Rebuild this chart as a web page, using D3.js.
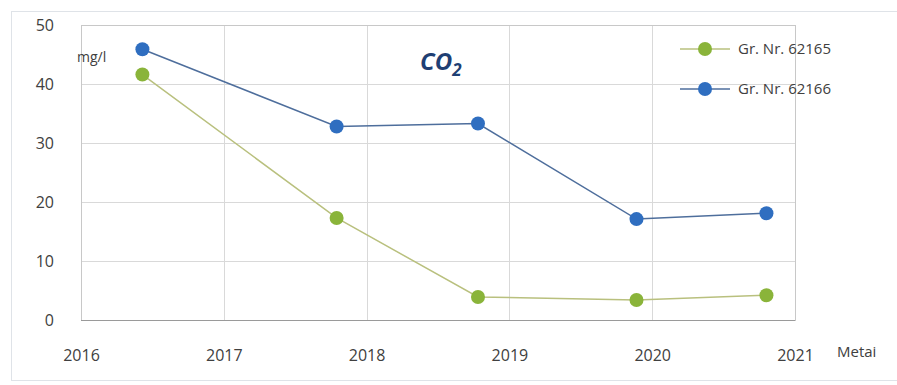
<!DOCTYPE html>
<html>
<head>
<meta charset="utf-8">
<script src="https://cdn.jsdelivr.net/npm/d3@7"></script>
<style>
  html, body { margin: 0; padding: 0; background: #fff; }
  svg { display: block; font-family: "Open Sans", "Liberation Sans", sans-serif; }
</style>
</head>
<body>
<svg id="chart" width="897" height="385"></svg>
<script>
// Sampling dates (decimal years) and CO2 concentrations, mg/l
const dates = [2016.43, 2017.79, 2018.78, 2019.89, 2020.80];
const well62165 = [41.6, 17.3, 3.9, 3.4, 4.2];
const well62166 = [45.9, 32.8, 33.3, 17.1, 18.1];
const seriesNames = ["Gr. Nr. 62165", "Gr. Nr. 62166"];
const yearTicks = [2016, 2017, 2018, 2019, 2020, 2021];
const valueTicks = [0, 10, 20, 30, 40, 50];

const svg = d3.select("#chart");
const plot = { left: 81, right: 795, top: 25, bottom: 320 };

const x = d3.scaleLinear().domain([2016, 2021]).range([plot.left, plot.right]);
const y = d3.scaleLinear().domain([0, 50]).range([plot.bottom, plot.top]);

// chart frame
svg.append("rect")
  .attr("x", 11.5).attr("y", 11.5).attr("width", 900).attr("height", 369)
  .attr("fill", "#fff").attr("stroke", "#dfe3e8");

// gridlines
svg.append("g").selectAll("line").data(valueTicks.filter(v => v > 0)).join("line")
  .attr("x1", plot.left).attr("x2", plot.right)
  .attr("y1", d => Math.round(y(d)) + 0.5).attr("y2", d => Math.round(y(d)) + 0.5)
  .attr("stroke", "#d9d9d9");
svg.append("g").selectAll("line").data(yearTicks).join("line")
  .attr("y1", plot.top).attr("y2", plot.bottom)
  .attr("x1", d => Math.round(x(d)) + 0.5).attr("x2", d => Math.round(x(d)) + 0.5)
  .attr("stroke", "#d9d9d9");

// plot border
svg.append("rect")
  .attr("x", plot.left + 0.5).attr("y", plot.top + 0.5)
  .attr("width", plot.right - plot.left).attr("height", plot.bottom - plot.top)
  .attr("fill", "none").attr("stroke", "#c8c8c8");
svg.append("line")
  .attr("x1", plot.left).attr("x2", plot.right)
  .attr("y1", plot.bottom + 0.5).attr("y2", plot.bottom + 0.5)
  .attr("stroke", "#9a9a9a");

// y axis labels
const yAxis = d3.axisLeft(y).tickValues(valueTicks).tickSize(0).tickPadding(0);
svg.append("g").attr("transform", `translate(${plot.left - 27},0)`).call(yAxis)
  .call(g => g.select(".domain").remove())
  .selectAll("text").attr("font-size", 16).attr("fill", "#404040")
  .attr("font-family", "'Open Sans', sans-serif");

// x axis labels, set well below the plot
const xAxis = d3.axisBottom(x).tickValues(yearTicks).tickFormat(d3.format("d")).tickSize(0).tickPadding(0);
svg.append("g").attr("transform", `translate(0,${plot.bottom + 30})`).call(xAxis)
  .call(g => g.select(".domain").remove())
  .selectAll("text").attr("font-size", 16).attr("fill", "#404040")
  .attr("font-family", "'Open Sans', sans-serif");

// units
svg.append("text").attr("x", 77).attr("y", 62).attr("font-size", 14).attr("fill", "#404040").text("mg/l");
svg.append("text").attr("x", 837).attr("y", 357).attr("font-size", 15).attr("fill", "#404040").text("Metai");

// title
const title = svg.append("text").attr("x", 420).attr("y", 70)
  .attr("font-size", 24).attr("font-style", "italic").attr("font-weight", "bold")
  .attr("fill", "#1f3f73");
title.append("tspan").text("CO");
title.append("tspan").attr("font-size", 17).attr("dy", 6).text("2");

// series
const series = [
  { name: seriesNames[0], values: well62165, line: "#b9c07e", marker: "#8ab43a" },
  { name: seriesNames[1], values: well62166, line: "#4e6e9c", marker: "#2f6ec0" }
];
const line = d3.line().x((d, i) => x(dates[i])).y(d => y(d));

series.forEach(s => {
  svg.append("path").datum(s.values).attr("d", line)
    .attr("fill", "none").attr("stroke", s.line).attr("stroke-width", 1.5);
  svg.append("g").selectAll("circle").data(s.values).join("circle")
    .attr("cx", (d, i) => x(dates[i])).attr("cy", d => y(d)).attr("r", 7)
    .attr("fill", s.marker);
});

// legend
const legend = svg.append("g").selectAll("g").data(series).join("g")
  .attr("transform", (d, i) => `translate(680,${49 + i * 40})`);
legend.append("line").attr("x1", 0).attr("x2", 50).attr("y1", 0).attr("y2", 0)
  .attr("stroke", d => d.line).attr("stroke-width", 1.5);
legend.append("circle").attr("cx", 25).attr("cy", 0).attr("r", 7).attr("fill", d => d.marker);
legend.append("text").attr("x", 58).attr("y", 0).attr("dy", "0.35em")
  .attr("font-size", 15).attr("fill", "#404040").text(d => d.name);
</script>
</body>
</html>
